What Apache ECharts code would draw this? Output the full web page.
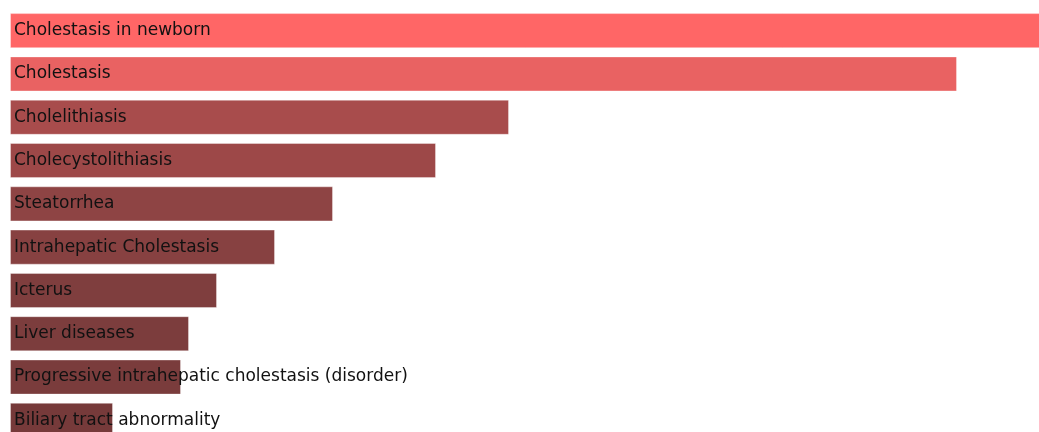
<!DOCTYPE html>
<html>
<head>
<meta charset="utf-8">
<script src="https://cdn.jsdelivr.net/npm/echarts@6/dist/echarts.min.js"></script>
<style>
  html, body { margin: 0; padding: 0; background: #fff; overflow: hidden; }
  /* taller than the window: the last bar is cut off at the bottom edge */
  #chart { width: 1039px; height: 442px; }
</style>
</head>
<body>
<div id="chart"></div>
<script>
const categories = [
  "Cholestasis in newborn",
  "Cholestasis",
  "Cholelithiasis",
  "Cholecystolithiasis",
  "Steatorrhea",
  "Intrahepatic Cholestasis",
  "Icterus",
  "Liver diseases",
  "Progressive intrahepatic cholestasis (disorder)",
  "Biliary tract abnormality"
];
const values = [1032, 947, 499, 426, 323, 265, 207, 179, 171, 103];
const barColors = [
  "#FF6666", "#E96262", "#A84C4C", "#9D4848", "#8E4444",
  "#874141", "#7F3E3E", "#7C3D3D", "#7A3C3C", "#763A3A"
];

const chart = echarts.init(document.getElementById("chart"), null, { renderer: "canvas" });

chart.setOption({
  animation: false,
  grid: { left: 10, right: 0, top: 9, bottom: 0, containLabel: false },
  xAxis: { type: "value", min: 0, max: 1029, show: false },
  yAxis: {
    type: "category",
    data: categories,
    inverse: true,
    show: false
  },
  series: [
    {
      type: "bar",
      data: values,
      barCategoryGap: "19%",
      clip: false,
      itemStyle: {
        color: (p) => barColors[p.dataIndex],
        borderColor: "rgba(255,255,255,0.35)",
        borderWidth: 1
      },
      label: {
        show: true,
        position: "insideLeft",
        distance: 4,
        formatter: (p) => p.name,
        color: "#111",
        fontFamily: "DejaVu Sans",
        fontSize: 17
      }
    }
  ]
});
</script>
</body>
</html>
